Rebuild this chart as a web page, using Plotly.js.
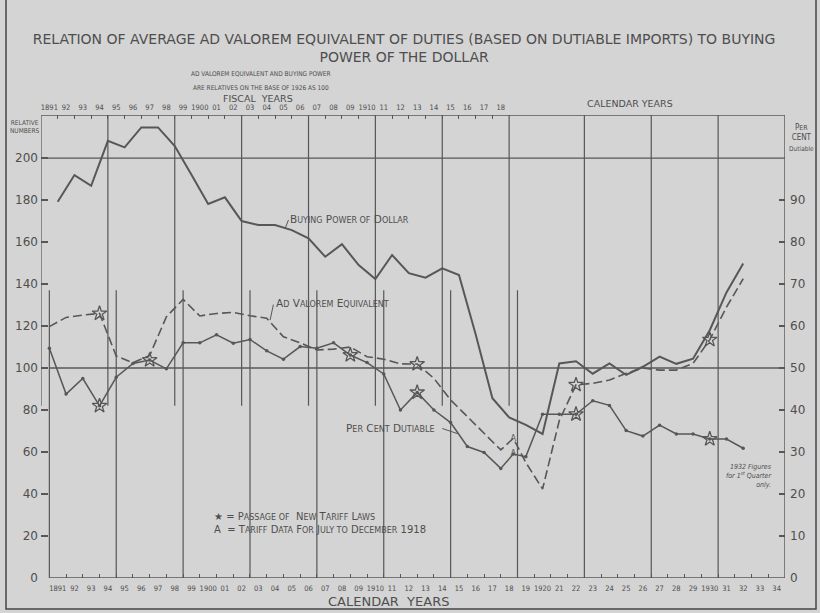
<!DOCTYPE html>
<html>
<head>
<meta charset="utf-8">
<script src="https://cdn.plot.ly/plotly-3.0.1.min.js"></script>
<style>html,body{margin:0;padding:0;background:#d4d4d4;}</style>
</head>
<body>
<div id="chart" style="width:820px;height:613px;"></div>
<script>
// ---------------- DATA ----------------
// Fiscal years (plotted at the fiscal-year label position)
const fiscalYears = [1891,1892,1893,1894,1895,1896,1897,1898,1899,1900,1901,1902,1903,1904,1905,1906,1907,1908,1909,1910,1911,1912,1913,1914,1915,1916,1917,1918];
const adValoremFiscal = [119.7,124.1,125.2,126,105.7,102.5,106,124.4,132.7,124.8,126,126.5,124.9,123.7,114.9,112,108.6,109,110,105.4,104.2,102,101.9,95.1,84.8,76.8,68.9,61];
const dutiableFiscal = [54.7,43.8,47.5,41,47.8,51.1,51.9,49.8,56,56,57.9,55.9,56.8,54.1,52.1,55.1,54.7,56,53.1,51.3,48.6,40,44.2,40,37,31.3,29.9,26.1];
// Tariff data for July to December 1918 ("A")
const halfYearStartMonth = 7, halfYearEndMonth = 12, halfYear = 1918;
const adValoremHalf = 66.5;
const dutiableHalf = 29.5;
// Calendar years (plotted at mid-year)
const calendarYears = [1919,1920,1921,1922,1923,1924,1925,1926,1927,1928,1929,1930,1931,1932];
const adValoremCal = [55,42.4,75,92,92.7,94.3,97.5,100,99,99,102.2,113.5,129,142.5];
const dutiableCal = [28.9,39,39,39,42.2,41.1,35.1,33.8,36.4,34.3,34.3,33.1,33.1,30.9];
// Buying power of the dollar, calendar years
const buyingPowerYears = [1891,1892,1893,1894,1895,1896,1897,1898,1899,1900,1901,1902,1903,1904,1905,1906,1907,1908,1909,1910,1911,1912,1913,1914,1915,1916,1917,1918,1919,1920,1921,1922,1923,1924,1925,1926,1927,1928,1929,1930,1931,1932];
const buyingPower = [179.2,191.9,186.8,208.2,205.1,214.6,214.6,205.7,192,178.1,181.3,170,168.1,168.1,165.7,161.8,153,159,149,142.4,153.8,145.2,143,147.5,144.3,116,85.6,76.5,72.9,68.6,102.2,103.2,97.3,102.2,96.7,100.6,105.4,102,104.4,118,136,149.8];
// Passage of new tariff laws (stars)
const tariffYearsAdValorem = [1894,1913,1922,1930];
const tariffYearsDutiable = [1894,1897,1909,1913,1922,1930];
// Axis labels
const leftTicks = [0,20,40,60,80,100,120,140,160,180,200];
const rightTicks = [0,10,20,30,40,50,60,70,80,90];
const topFiscalLabels = fiscalYears;
const bottomCalendarLabels = [];
for (let y = 1891; y <= 1934; y++) bottomCalendarLabels.push(y);

// ---------------- helpers ----------------
const ink = '#575757';
const txt = '#4e4e4e';
const FONT = 'DejaVu Sans, sans-serif';
const NARROW = 'DejaVu Sans Condensed, Liberation Sans Narrow, DejaVu Sans, sans-serif';
const shortLabel = y => (y % 10 === 0 || y === 1891) ? String(y) : String(y).slice(2);
const mid = y => y + 0.5;                        // calendar-year value plotted at mid-year
const halfPos = halfYear + ((halfYearStartMonth - 1) + halfYearEndMonth) / 24; // midpoint of Jul-Dec

const avX = fiscalYears.concat([halfPos], calendarYears.map(mid));
const avY = adValoremFiscal.concat([adValoremHalf], adValoremCal);
const duX = fiscalYears.concat([halfPos], calendarYears.map(mid));
const duY = dutiableFiscal.concat([dutiableHalf], dutiableCal);
const bpX = buyingPowerYears.map(mid);

function lookup(xs, ys, year) {
  const i = fiscalYears.indexOf(year);
  if (i >= 0) return [xs[i], ys[i]];
  const j = xs.indexOf(mid(year));
  return [xs[j], ys[j]];
}
const avStars = tariffYearsAdValorem.map(y => lookup(avX, avY, y));
const duStars = tariffYearsDutiable.map(y => lookup(duX, duY, y));

const traces = [
  {x: bpX, y: buyingPower, type: 'scatter', mode: 'lines', line: {color: ink, width: 2}, hoverinfo: 'skip'},
  {x: avX, y: avY, type: 'scatter', mode: 'lines', line: {color: ink, width: 1.6, dash: '9px,4px'}, hoverinfo: 'skip'},
  {x: duX, y: duY, yaxis: 'y2', type: 'scatter', mode: 'lines+markers', line: {color: ink, width: 1.5},
   marker: {size: 3.5, color: ink}, hoverinfo: 'skip'},
  {x: avStars.map(p => p[0]), y: avStars.map(p => p[1]), type: 'scatter', mode: 'markers',
   marker: {symbol: 'star-open', size: 11, color: ink, line: {width: 1.3, color: ink}}, hoverinfo: 'skip'},
  {x: duStars.map(p => p[0]), y: duStars.map(p => p[1]), yaxis: 'y2', type: 'scatter', mode: 'markers',
   marker: {symbol: 'star-open', size: 11, color: ink, line: {width: 1.3, color: ink}}, hoverinfo: 'skip'},
  {x: [halfPos], y: [adValoremHalf], type: 'scatter', mode: 'text', text: ['A'], textfont: {family: NARROW, size: 9, color: ink}, hoverinfo: 'skip'},
  {x: [halfPos], y: [dutiableHalf], yaxis: 'y2', type: 'scatter', mode: 'text', text: ['A'], textfont: {family: NARROW, size: 9, color: ink}, hoverinfo: 'skip'},
  {x: [1900], y: [0], xaxis: 'x2', type: 'scatter', mode: 'markers', marker: {opacity: 0}, hoverinfo: 'skip'}
];

// ---------------- frame & grid shapes ----------------
const X0 = 1890.5, X1 = 1935, YTOP = 220.5;
const shapes = [];
const L = (x0, y0, x1, y1, w) => shapes.push({type: 'line', xref: 'x', yref: 'y', x0, y0, x1, y1, line: {color: ink, width: w || 1.2}});
for (let x = 1890.5; x <= 1918.5; x += 4) L(x, 82, x, YTOP);          // fiscal grid
for (let x = 1891; x <= 1919; x += 4) L(x, 0, x, 137);               // calendar grid (lower)
for (let x = 1923; x <= 1931; x += 4) L(x, 0, x, YTOP);              // calendar grid (full)
L(X1, 0, X1, YTOP, 1.4);
L(X0, YTOP, X1, YTOP, 1.4);
L(1891, 0, X1, 0, 1.4);
L(1891, 100, X1, 100, 1.4);
L(X0, 200, X1, 200, 1.2);
// page frame
shapes.push({type: 'rect', xref: 'paper', yref: 'paper', x0: (6-41)/744, x1: (816-41)/744, y0: (578-609)/463, y1: 1.6,
  line: {color: '#444', width: 1.5}});
// little pointer squiggles from labels to curves
const squiggle = (x0, y0, x1, y1, yref) => shapes.push({type: 'line', xref: 'x', yref: yref || 'y', x0, y0, x1, y1, line: {color: ink, width: 1}});
squiggle(1905.3, 170.5, 1905.1, 166.4);
squiggle(1904.4, 130.2, 1904.2, 122.8);
squiggle(1914.5, 35.6, 1915.4, 34.4, 'y2');

const ann = (text, x, y, opts) => Object.assign({text, x, y, xref: 'paper', yref: 'paper', showarrow: false,
  xanchor: 'center', yanchor: 'middle', font: {family: FONT, size: 8, color: txt}}, opts || {});
const px = v => (v - 41) / 744, py = v => (578 - v) / 463;
const sc = (big, small) => big + '<span style="font-size:8px">' + small + '</span>';

const annotations = [
  ann('AD VALOREM EQUIVALENT AND BUYING POWER', px(261), py(74), {font: {family: NARROW, size: 6.5, color: txt}}),
  ann('ARE RELATIVES ON THE BASE OF 1926 AS 100', px(261), py(88), {font: {family: NARROW, size: 6.5, color: txt}}),
  ann('FISCAL  YEARS', px(258), py(98.5), {font: {family: FONT, size: 9.5, color: txt}}),
  ann('CALENDAR YEARS', px(630), py(104), {font: {family: FONT, size: 9.5, color: txt}}),
  ann('CALENDAR  YEARS', px(388), py(601), {font: {family: FONT, size: 13, color: txt}}),
  ann('RELATIVE<br>NUMBERS', px(24), py(127), {font: {family: NARROW, size: 6.5, color: txt}}),
  ann('P<span style="font-size:7px">ER</span><br>CENT<br><span style="font-size:6.5px">Dutiable</span>', px(801), py(138), {font: {family: NARROW, size: 8, color: txt}}),
  ann(sc('B','UYING') + ' ' + sc('P','OWER OF') + ' ' + sc('D','OLLAR'), 1905.3, 171,
     {xref: 'x', yref: 'y', xanchor: 'left', font: {family: FONT, size: 10.5, color: txt}}),
  ann(sc('A','D') + ' ' + sc('V','ALOREM') + ' ' + sc('E','QUIVALENT'), 1904.45, 131,
     {xref: 'x', yref: 'y', xanchor: 'left', font: {family: FONT, size: 10.5, color: txt}}),
  ann(sc('P','ER') + ' ' + sc('C','ENT') + ' ' + sc('D','UTIABLE'), 1908.6, 71.3,
     {xref: 'x', yref: 'y', xanchor: 'left', font: {family: FONT, size: 10.5, color: txt}}),
  ann('★ = ' + sc('P','ASSAGE OF') + '  ' + sc('N','EW') + ' ' + sc('T','ARIFF') + ' ' + sc('L','AWS'), 1900.7, 29.2,
     {xref: 'x', yref: 'y', xanchor: 'left', font: {family: FONT, size: 10, color: txt}}),
  ann('A  = ' + sc('T','ARIFF') + ' ' + sc('D','ATA') + ' ' + sc('F','OR') + ' ' + sc('J','ULY TO') + ' ' + sc('D','ECEMBER') + ' 1918', 1900.7, 22.9,
     {xref: 'x', yref: 'y', xanchor: 'left', font: {family: FONT, size: 10, color: txt}}),
  ann('<i>1932 Figures<br>for 1<sup>st</sup> Quarter<br>only.</i>', px(774), py(476),
     {xanchor: 'right', align: 'right', font: {family: NARROW, size: 7, color: txt}})
];

const layout = {
  width: 820, height: 613,
  margin: {l: 41, r: 35, t: 115, b: 35},
  paper_bgcolor: '#d4d4d4', plot_bgcolor: '#d4d4d4',
  showlegend: false,
  title: {text: 'RELATION OF AVERAGE AD VALOREM EQUIVALENT OF DUTIES (BASED ON DUTIABLE IMPORTS) TO BUYING<br>POWER OF THE DOLLAR',
    x: 0.488, xanchor: 'center', xref: 'paper', y: 1 - 44/613, yanchor: 'top', yref: 'container',
    font: {family: FONT, size: 14, color: txt}},
  xaxis: {range: [X0, X1], showgrid: false, zeroline: false, showline: false,
    tickmode: 'array', tickvals: bottomCalendarLabels.map(mid), ticktext: bottomCalendarLabels.map(shortLabel),
    ticks: '', tickfont: {family: NARROW, size: 7.5, color: txt}, ticklabelstandoff: 4,
    minor: {tickmode: 'array', tickvals: bottomCalendarLabels.slice(1), ticks: 'inside', ticklen: 4, tickcolor: ink, tickwidth: 1, showgrid: false}},
  xaxis2: {overlaying: 'x', side: 'top', anchor: 'y', range: [X0, X1], showgrid: false, zeroline: false, showline: false,
    tickmode: 'array', tickvals: topFiscalLabels, ticktext: topFiscalLabels.map(shortLabel),
    ticks: '', tickfont: {family: NARROW, size: 7.5, color: txt}, ticklabelstandoff: 3,
    minor: {tickmode: 'array', tickvals: topFiscalLabels.slice(0, -1).map(mid), ticks: 'inside', ticklen: 4, tickcolor: ink, tickwidth: 1, showgrid: false}},
  yaxis: {range: [0, YTOP], showgrid: false, zeroline: false, showline: false,
    tickmode: 'array', tickvals: leftTicks, ticks: 'inside', ticklen: 7, tickcolor: ink, tickwidth: 1.2,
    tickfont: {family: FONT, size: 12, color: txt}, ticklabelstandoff: 2},
  yaxis2: {overlaying: 'y', side: 'right', range: [0, YTOP / 2], showgrid: false, zeroline: false, showline: false,
    tickmode: 'array', tickvals: rightTicks, ticks: 'inside', ticklen: 6, tickcolor: ink, tickwidth: 1.2,
    tickfont: {family: FONT, size: 12, color: txt}, ticklabelstandoff: 4},
  shapes, annotations
};
Plotly.newPlot('chart', traces, layout, {staticPlot: true, displayModeBar: false});
</script>
</body>
</html>
